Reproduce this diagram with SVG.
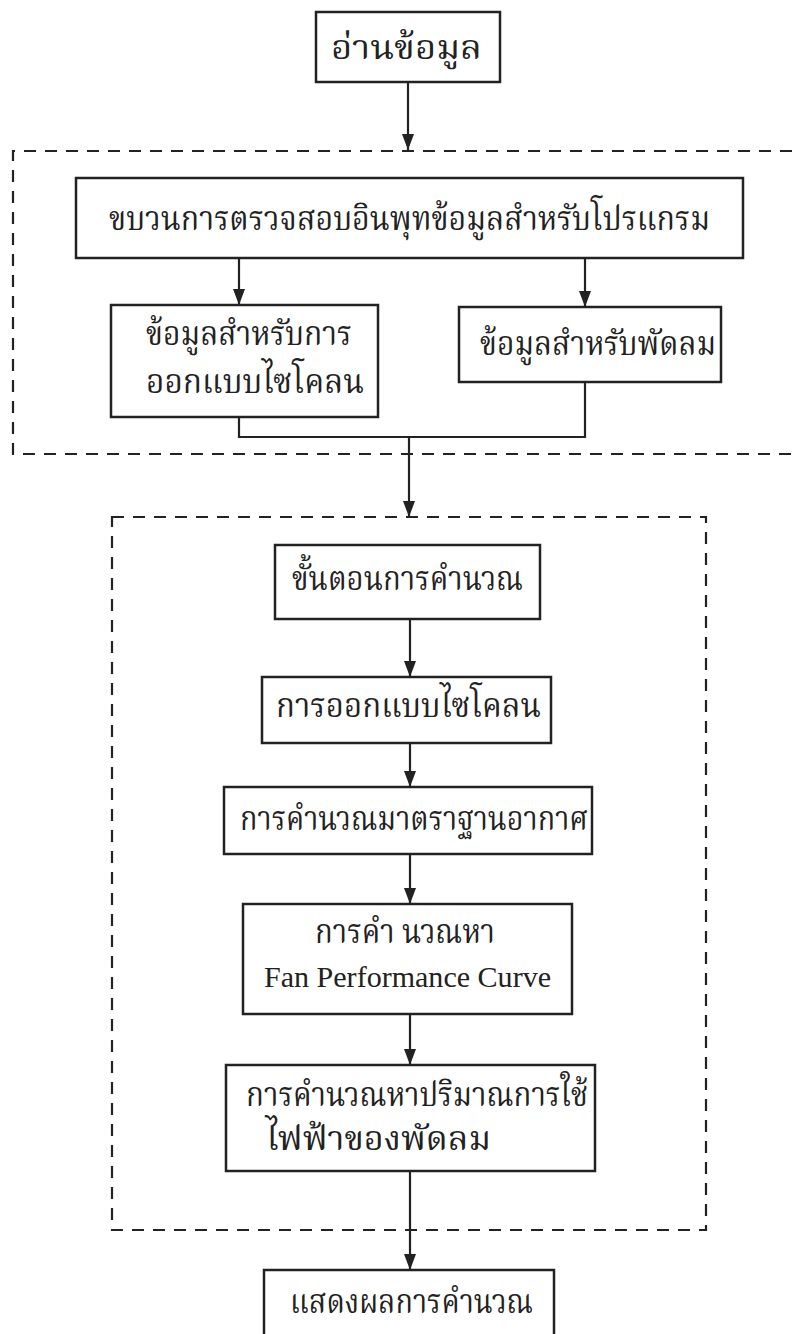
<svg xmlns="http://www.w3.org/2000/svg" width="792" height="1334" viewBox="0 0 792 1334">
<defs>
<style>
.box{fill:#fff;stroke:#222;stroke-width:2.5}
.ln{fill:none;stroke:#222;stroke-width:2.2}
.dash{fill:none;stroke:#222;stroke-width:2.2;stroke-dasharray:12 9}
.t{font-family:"Liberation Serif","Noto Serif Thai","Noto Sans Thai","Noto Sans","DejaVu Sans",serif;font-size:34px;fill:#222}
.e{font-family:"Liberation Serif",serif;font-size:30px;fill:#222}
</style>
<marker id="ah" viewBox="0 0 16 12" refX="16" refY="6" markerWidth="16" markerHeight="12" markerUnits="userSpaceOnUse" orient="auto">
<path d="M0,0 L16,6 L0,12 z" fill="#222"/>
</marker>
</defs>
<rect width="792" height="1334" fill="#fff"/>
<g id="groups">
<path class="dash" d="M792,151 H13 V454 H792"/>
<rect class="dash" x="112" y="517" width="594" height="713"/>
</g>
<g id="n1"><rect class="box" x="316" y="12" width="184" height="70"/>
<text class="t" x="331" y="59" textLength="151" lengthAdjust="spacingAndGlyphs">อ่านข้อมูล</text></g>
<g id="n2"><rect class="box" x="76" y="178" width="667" height="80"/>
<text class="t" x="109" y="230" textLength="601" lengthAdjust="spacingAndGlyphs">ขบวนการตรวจสอบอินพุทข้อมูลสำหรับโปรแกรม</text></g>
<g id="n3"><rect class="box" x="111" y="305" width="267" height="112"/>
<text class="t" x="146" y="345" textLength="206" lengthAdjust="spacingAndGlyphs">ข้อมูลสำหรับการ</text>
<text class="t" x="146" y="393" textLength="218" lengthAdjust="spacingAndGlyphs">ออกแบบไซโคลน</text></g>
<g id="n4"><rect class="box" x="459" y="307" width="262" height="75"/>
<text class="t" x="480" y="355" textLength="236" lengthAdjust="spacingAndGlyphs">ข้อมูลสำหรับพัดลม</text></g>
<g id="n5"><rect class="box" x="275" y="545" width="265" height="74"/>
<text class="t" x="292" y="590" textLength="231" lengthAdjust="spacingAndGlyphs">ขั้นตอนการคำนวณ</text></g>
<g id="n6"><rect class="box" x="262" y="677" width="289" height="66"/>
<text class="t" x="276" y="717" textLength="265" lengthAdjust="spacingAndGlyphs">การออกแบบไซโคลน</text></g>
<g id="n7"><rect class="box" x="224" y="787" width="368" height="67"/>
<text class="t" x="240" y="830" textLength="348" lengthAdjust="spacingAndGlyphs">การคำนวณมาตราฐานอากาศ</text></g>
<g id="n8"><rect class="box" x="243" y="904" width="329" height="110"/>
<text class="t" x="315" y="943" textLength="180" lengthAdjust="spacingAndGlyphs">การคำ นวณหา</text>
<text class="e" x="264" y="987" textLength="287" lengthAdjust="spacingAndGlyphs">Fan Performance Curve</text></g>
<g id="n9"><rect class="box" x="226" y="1065" width="369" height="106"/>
<text class="t" x="246" y="1106" textLength="342" lengthAdjust="spacingAndGlyphs">การคำนวณหาปริมาณการใช้</text>
<text class="t" x="266" y="1150" textLength="225" lengthAdjust="spacingAndGlyphs">ไฟฟ้าของพัดลม</text></g>
<g id="n10"><rect class="box" x="264" y="1270" width="290" height="90"/>
<text class="t" x="290" y="1313" textLength="243" lengthAdjust="spacingAndGlyphs">แสดงผลการคำนวณ</text></g>
<g id="connectors">
<line class="ln" x1="408" y1="82" x2="408" y2="150" marker-end="url(#ah)"/>
<line class="ln" x1="239" y1="258" x2="239" y2="305" marker-end="url(#ah)"/>
<line class="ln" x1="585" y1="258" x2="585" y2="307" marker-end="url(#ah)"/>
<path class="ln" d="M239,417 V437 H585 V382"/>
<line class="ln" x1="409" y1="437" x2="409" y2="517" marker-end="url(#ah)"/>
<line class="ln" x1="410" y1="619" x2="410" y2="677" marker-end="url(#ah)"/>
<line class="ln" x1="410" y1="743" x2="410" y2="787" marker-end="url(#ah)"/>
<line class="ln" x1="410" y1="854" x2="410" y2="904" marker-end="url(#ah)"/>
<line class="ln" x1="410" y1="1014" x2="410" y2="1065" marker-end="url(#ah)"/>
<line class="ln" x1="410" y1="1171" x2="410" y2="1270" marker-end="url(#ah)"/>
</g>
</svg>
